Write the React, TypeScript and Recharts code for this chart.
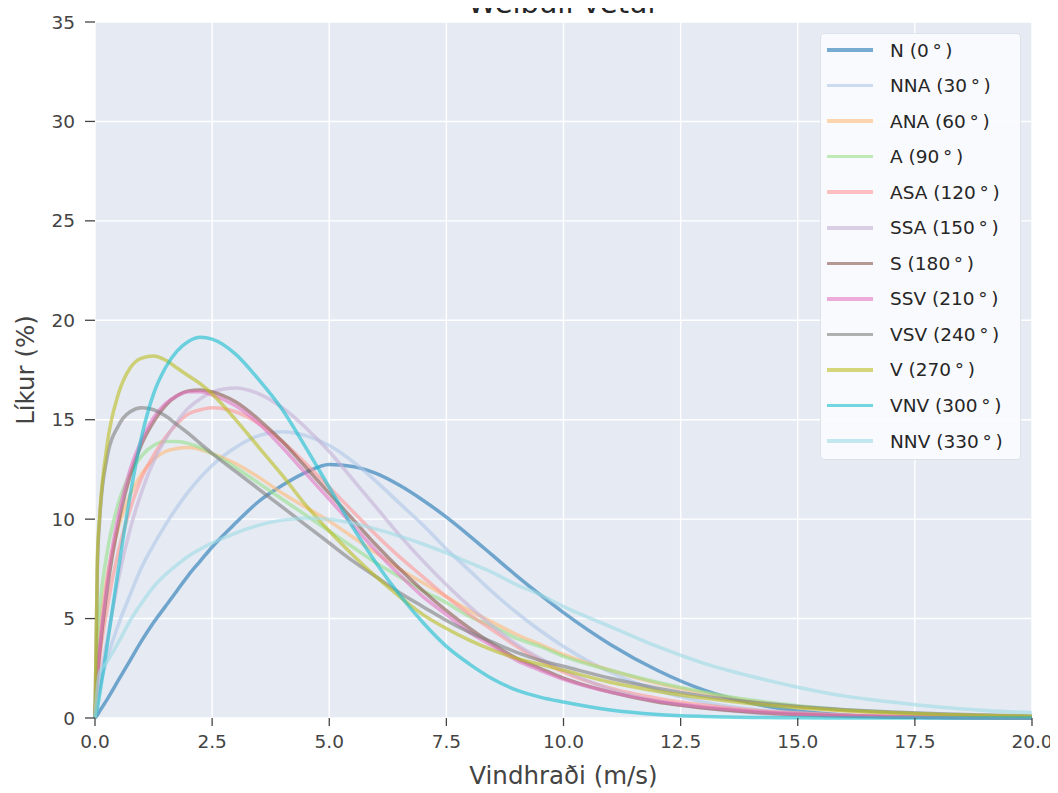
import React from "react";
import { LineChart, Line, XAxis, YAxis, CartesianGrid, Legend } from "recharts";

// Wind speed samples (m/s)
const speeds = [0, 0.05, 0.1, 0.25, 0.5, 0.75, 1, 1.25, 1.5, 1.75, 2, 2.25, 2.5, 3, 3.5, 4, 4.5, 5, 5.5, 6, 6.5, 7, 7.5, 8, 8.5, 9, 9.5, 10, 11, 12, 13, 14, 15, 16, 17, 18, 19, 20];

// Probability (%) per direction
const N = [0, 0.15, 0.35, 0.9, 1.9, 2.9, 3.9, 4.8, 5.6, 6.4, 7.2, 7.9, 8.6, 9.8, 10.9, 11.7, 12.35, 12.75, 12.65, 12.3, 11.7, 10.95, 10.1, 9.15, 8.15, 7.15, 6.2, 5.3, 3.7, 2.4, 1.4, 0.75, 0.35, 0.15, 0.06, 0.02, 0.01, 0];
const NNA = [0, 0.9, 1.5, 2.9, 4.7, 6.2, 7.6, 8.7, 9.7, 10.6, 11.4, 12.1, 12.7, 13.6, 14.2, 14.4, 14.2, 13.7, 12.9, 11.9, 10.8, 9.7, 8.5, 7.4, 6.3, 5.3, 4.4, 3.6, 2.3, 1.4, 0.8, 0.45, 0.25, 0.12, 0.06, 0.03, 0.01, 0];
const ANA = [0, 3.0, 4.5, 7.0, 9.6, 11.2, 12.3, 13.0, 13.4, 13.55, 13.6, 13.5, 13.3, 12.8, 12.1, 11.3, 10.6, 9.9, 9.1, 8.3, 7.5, 6.8, 6.1, 5.4, 4.8, 4.2, 3.7, 3.2, 2.4, 1.75, 1.25, 0.85, 0.58, 0.38, 0.25, 0.16, 0.1, 0.06];
const A = [0, 3.8, 5.5, 8.2, 10.8, 12.3, 13.2, 13.7, 13.9, 13.9, 13.8, 13.6, 13.3, 12.6, 11.8, 11.0, 10.2, 9.4, 8.6, 7.8, 7.1, 6.4, 5.8, 5.1, 4.6, 4.0, 3.6, 3.1, 2.4, 1.8, 1.3, 0.9, 0.62, 0.42, 0.28, 0.18, 0.12, 0.08];
const ASA = [0, 1.8, 3.0, 5.4, 8.4, 10.5, 12.1, 13.2, 14.1, 14.8, 15.3, 15.5, 15.6, 15.4, 14.8, 13.9, 12.8, 11.6, 10.4, 9.2, 8.1, 7.1, 6.1, 5.2, 4.4, 3.6, 2.9, 2.3, 1.5, 1.0, 0.65, 0.4, 0.25, 0.15, 0.09, 0.05, 0.03, 0.02];
const SSA = [0, 1.0, 1.8, 3.8, 7.0, 9.5, 11.4, 12.9, 14.0, 14.9, 15.6, 16.05, 16.4, 16.6, 16.3, 15.6, 14.6, 13.4, 12.0, 10.6, 9.2, 7.9, 6.7, 5.6, 4.6, 3.7, 3.0, 2.4, 1.45, 0.85, 0.5, 0.27, 0.14, 0.07, 0.04, 0.02, 0.01, 0];
const S = [0, 2.0, 3.3, 6.3, 9.8, 12.2, 13.8, 14.9, 15.7, 16.2, 16.45, 16.5, 16.4, 15.9, 15.0, 13.9, 12.6, 11.3, 10.0, 8.7, 7.5, 6.4, 5.4, 4.5, 3.7, 3.0, 2.5, 2.0, 1.3, 0.8, 0.5, 0.3, 0.17, 0.1, 0.05, 0.03, 0.01, 0];
const SSV = [0, 2.2, 3.6, 6.7, 10.2, 12.5, 14.0, 15.1, 15.8, 16.2, 16.4, 16.4, 16.25, 15.7, 14.8, 13.6, 12.3, 11.0, 9.7, 8.4, 7.2, 6.1, 5.2, 4.3, 3.6, 2.9, 2.4, 1.95, 1.3, 0.85, 0.55, 0.35, 0.2, 0.12, 0.07, 0.04, 0.02, 0.01];
const VSV = [0, 7.5, 10.0, 13.0, 14.7, 15.4, 15.6, 15.5, 15.2, 14.75, 14.3, 13.8, 13.3, 12.4, 11.5, 10.6, 9.7, 8.8, 7.9, 7.1, 6.3, 5.6, 4.9, 4.3, 3.8, 3.3, 2.9, 2.6, 2.0, 1.5, 1.1, 0.8, 0.58, 0.42, 0.3, 0.21, 0.15, 0.1];
const V = [0, 8.0, 10.2, 13.6, 16.3, 17.6, 18.1, 18.2, 18.0, 17.6, 17.2, 16.8, 16.3, 15.0, 13.6, 12.2, 10.7, 9.4, 8.2, 7.1, 6.1, 5.2, 4.5, 3.9, 3.4, 3.0, 2.7, 2.4, 1.8, 1.35, 1.0, 0.72, 0.52, 0.37, 0.26, 0.18, 0.13, 0.09];
const VNV = [0, 0.5, 1.2, 3.5, 7.5, 11.2, 14.2, 16.3, 17.6, 18.45, 18.95, 19.15, 19.05, 18.3, 17.0, 15.5, 13.6, 11.6, 9.6, 7.8, 6.2, 4.8, 3.6, 2.7, 1.95, 1.4, 1.05, 0.8, 0.4, 0.18, 0.08, 0.03, 0.01, 0, 0, 0, 0, 0];
const NNV = [0, 1.5, 2.3, 2.8, 3.8, 4.9, 5.8, 6.6, 7.2, 7.7, 8.15, 8.5, 8.8, 9.3, 9.7, 9.95, 10.05, 10.0, 9.8, 9.5, 9.15, 8.75, 8.3, 7.8, 7.3, 6.7, 6.2, 5.6, 4.6, 3.6, 2.75, 2.1, 1.55, 1.1, 0.8, 0.55, 0.38, 0.26];

const directionKeys = ["N", "NNA", "ANA", "A", "ASA", "SSA", "S", "SSV", "VSV", "V", "VNV", "NNV"];
const directionNames = ["N", "NNA", "ANA", "A", "ASA", "SSA", "S", "SSV", "VSV", "V", "VNV", "NNV"];
const directionDegrees = [0, 30, 60, 90, 120, 150, 180, 210, 240, 270, 300, 330];
const seriesValues = [N, NNA, ANA, A, ASA, SSA, S, SSV, VSV, V, VNV, NNV];
const colors = ["#1f77b4", "#aec7e8", "#ffbb78", "#98df8a", "#ff9896", "#c5b0d5", "#8c564b", "#e377c2", "#7f7f7f", "#bcbd22", "#17becf", "#9edae5"];

const xTicks = [0, 2.5, 5, 7.5, 10, 12.5, 15, 17.5, 20];
const yTicks = [0, 5, 10, 15, 20, 25, 30, 35];

const labelFor = (i: number) => `${directionNames[i]} (${directionDegrees[i]}\u2009°\u2009)`;

const rows = speeds.map((s, i) => {
  const r: Record<string, number> = { speed: s };
  directionKeys.forEach((k, j) => {
    r[k] = seriesValues[j][i];
  });
  return r;
});

const FONT = "'DejaVu Sans', sans-serif";
const TEXT = "#444444";

const LegendBox = () => (
  <div
    style={{
      position: "absolute",
      left: 820,
      top: 33,
      width: 201,
      height: 427,
      background: "rgba(250,251,253,0.95)",
      border: "1px solid #dde2ea",
      borderRadius: 4,
      boxSizing: "border-box",
      fontFamily: FONT,
      fontSize: 18.5,
      color: "#262626",
    }}
  >
    {directionKeys.map((k, i) => (
      <div
        key={k}
        style={{ position: "absolute", left: 0, top: 1 + i * 35.55, height: 30, display: "flex", alignItems: "center" }}
      >
        <div style={{ width: 46, height: 3.5, marginLeft: 6, background: colors[i], opacity: 0.6 }} />
        <span style={{ marginLeft: 17, whiteSpace: "nowrap" }}>{labelFor(i)}</span>
      </div>
    ))}
  </div>
);

export default function App() {
  return (
    <div style={{ position: "relative", width: 1058, height: 793, overflow: "hidden", background: "#fff", marginTop: -8, marginLeft: -8 }}>
      <LineChart width={1058} height={793} data={rows} margin={{ top: 22, right: 26, bottom: 0, left: 0 }}>
        <CartesianGrid stroke="#ffffff" strokeWidth={1.4} fill="#e5eaf3" fillOpacity={1} horizontalValues={yTicks} verticalValues={xTicks} />
        <XAxis
          dataKey="speed"
          type="number"
          domain={[0, 20]}
          ticks={xTicks}
          tickFormatter={(v: number) => v.toFixed(1)}
          axisLine={false}
          tickLine={{ stroke: "#444", strokeWidth: 1.3 }}
          tickSize={8}
          tickMargin={9}
          height={75}
          tick={{ fill: TEXT, fontSize: 18.5, fontFamily: FONT }}
          label={{ value: "Vindhraði (m/s)", position: "insideBottom", offset: 9, style: { fill: TEXT, fontSize: 24.5, fontFamily: FONT } }}
        />
        <YAxis
          type="number"
          domain={[0, 35]}
          ticks={yTicks}
          axisLine={false}
          tickLine={{ stroke: "#444", strokeWidth: 1.3 }}
          tickSize={10}
          tickMargin={10}
          width={95}
          tick={{ fill: TEXT, fontSize: 18.5, fontFamily: FONT }}
          label={{ value: "Líkur (%)", angle: -90, position: "insideLeft", offset: 25, style: { fill: TEXT, fontSize: 24.5, fontFamily: FONT, textAnchor: "middle" } }}
        />
        {directionKeys.map((k, i) => (
          <Line
            key={k}
            dataKey={k}
            name={labelFor(i)}
            type="monotone"
            stroke={colors[i]}
            strokeOpacity={0.6}
            strokeWidth={3.5}
            dot={false}
            isAnimationActive={false}
          />
        ))}
        <Legend content={() => null} />
      </LineChart>
      <LegendBox />
      <div
        style={{
          position: "absolute",
          zIndex: 5,
          left: 95,
          width: 937,
          top: -14,
          height: 34,
          lineHeight: "34px",
          textAlign: "center",
          fontFamily: FONT,
          fontSize: 29,
          color: "#262626",
          whiteSpace: "nowrap",
        }}
      >
        Weibull vetur
      </div>
    </div>
  );
}
